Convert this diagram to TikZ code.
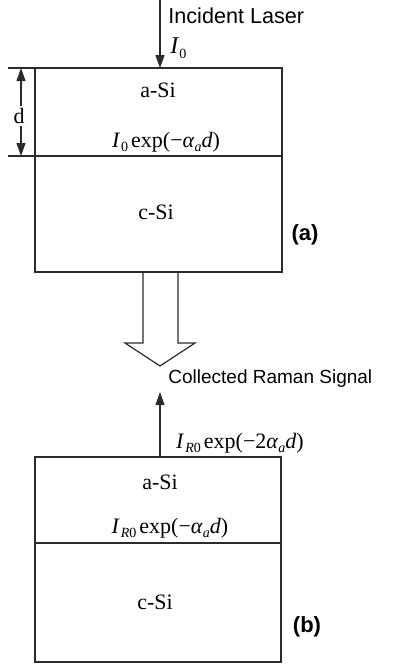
\documentclass[tikz,border=0pt]{standalone}
\usepackage{fontspec}
\setmainfont{Liberation Serif}
\newfontfamily\labelsans{Liberation Sans}
\usetikzlibrary{arrows.meta}
\definecolor{LineInk}{HTML}{2B2B2B}
\newcommand{\lowidx}[1]{\raisebox{-0.45ex}{\scriptsize #1}}
\newcommand{\intens}[2]{\textit{I}\kern0.5pt\lowidx{#1}\kern1.5pt exp(−#2\textit{α}\lowidx{\textit{a}}\textit{d})}

\begin{document}
\begin{tikzpicture}[
	x=0.5pt, y=-0.5pt,
	font=\fontsize{11}{13}\selectfont,
	layer/.style={draw=LineInk, line width=0.6pt},
	beam/.style={-{Triangle[length=6.5pt,width=4.5pt]}, draw=LineInk, line width=0.6pt},
	span/.style={{Triangle[length=6.5pt,width=4.5pt]}-{Triangle[length=6.5pt,width=4.5pt]}, draw=LineInk, line width=0.6pt},
	sanslabel/.style={font=\labelsans\fontsize{9.5}{11}\selectfont, inner sep=1pt},
	tag/.style={font=\labelsans\bfseries\fontsize{11}{13}\selectfont}
]
\useasboundingbox (0,0) rectangle (398,666);

% (a) incident beam
\draw[layer] (8,68) -- (282,68);
\draw[layer] (8,156) -- (282,156);
\draw[layer] (35,68) rectangle (282,272);

\coordinate (laser) at (160,0);
\coordinate (entryA) at (160,68);
\draw[beam] (laser) -- (entryA);

\coordinate (dtop) at (21,68);
\coordinate (dbot) at (21,156);
\draw[span] (dtop) -- (dbot);
\node[fill=white, inner sep=1pt] (dlabel) at (19,116) {d};

\node[sanslabel, font=\labelsans\fontsize{10.8}{12}\selectfont, anchor=west] (laserlbl) at (166,16) {Incident Laser};
\node[anchor=west, inner sep=1pt, font=\fontsize{12}{14}\selectfont] (izero) at (168,48) {\textit{I}\lowidx{0}};
\node (asiA) at (158,90) {a-Si};
\node (attA) at (166,142) {\intens{0}{}};
\node (csiA) at (156,212) {c-Si};
\node[tag] (tagA) at (305,235) {(a)};

% hollow transition arrow
\draw[layer] (143,272) -- (143,343) -- (125,343) -- (160,366) -- (195,343) -- (178,343) -- (178,272);

% (b) collected signal
\draw[layer] (35,457) rectangle (281,662);
\draw[layer] (35,543) -- (281,543);

\coordinate (exitB) at (160,457);
\coordinate (signal) at (160,392);
\draw[beam] (exitB) -- (signal);

\node[sanslabel, anchor=west] (ramanlbl) at (166,379) {Collected Raman Signal};
\node (exitlbl) at (240,443) {\intens{\textit{R}0}{2}};
\node (asiB) at (160,482) {a-Si};
\node (attB) at (170,528) {\intens{\textit{R}0}{}};
\node (csiB) at (155,602) {c-Si};
\node[tag] (tagB) at (307,627) {(b)};
\end{tikzpicture}
\end{document}
